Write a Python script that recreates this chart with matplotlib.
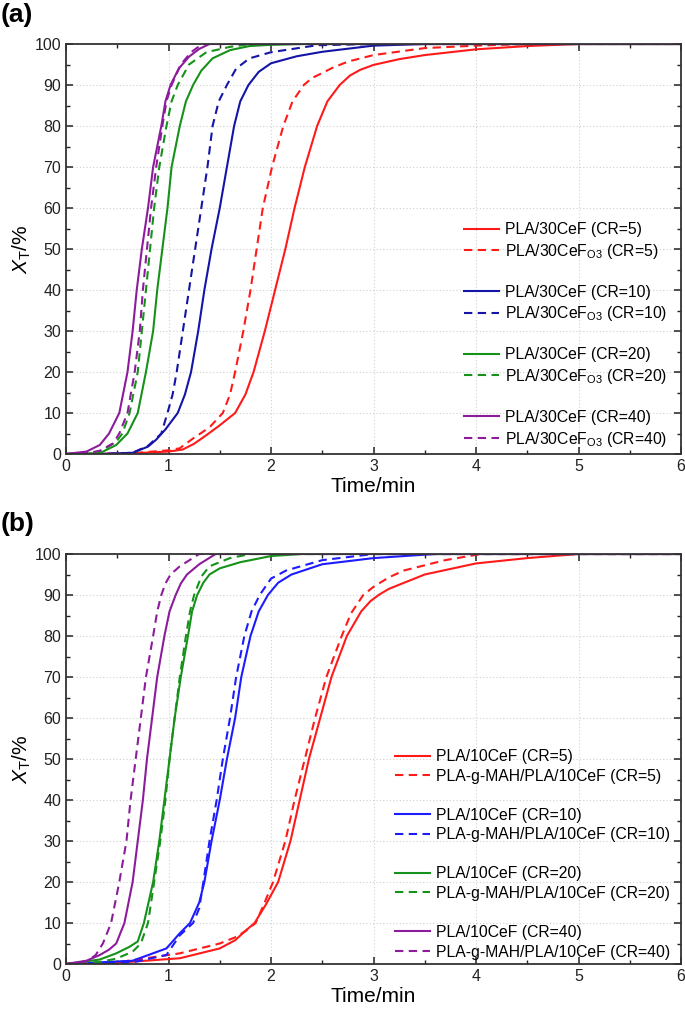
import matplotlib
matplotlib.use('Agg')
import matplotlib.pyplot as plt
from matplotlib.lines import Line2D
from matplotlib.ticker import MultipleLocator

plt.rcParams['font.family'] = ['Liberation Sans', 'DejaVu Sans']
plt.rcParams['mathtext.fontset'] = 'custom'
plt.rcParams['mathtext.rm'] = 'Liberation Sans'
plt.rcParams['mathtext.it'] = 'Liberation Sans:italic'

# ---- panel (a): PLA/30CeF vs PLA/30CeF_O3 ----
a5s_t = [0, 0.6, 1.0, 1.14, 1.25, 1.37, 1.50, 1.65, 1.75, 1.83, 1.94, 2.04, 2.14, 2.23, 2.33, 2.45, 2.55, 2.67, 2.77, 2.87, 3.0, 3.25, 3.5, 4.0, 4.5, 5.0, 6.0]
a5s_x = [0, 0.1, 0.6, 1.1, 2.5, 4.6, 7, 10, 14.5, 20, 30, 40, 50, 60, 70, 80, 86, 90, 92.3, 93.7, 94.9, 96.3, 97.3, 98.7, 99.5, 100, 100]
a5d_t = [0, 0.6, 1.0, 1.11, 1.24, 1.40, 1.53, 1.60, 1.65, 1.73, 1.80, 1.86, 1.92, 2.01, 2.12, 2.21, 2.32, 2.40, 2.49, 2.60, 2.75, 3.0, 3.5, 4.0, 4.5, 6.0]
a5d_x = [0, 0.1, 0.9, 1.4, 3.8, 6.5, 10, 14.5, 20, 30, 40, 50, 60, 70, 80, 86, 90, 91.7, 92.8, 94.2, 95.7, 97.3, 99.0, 99.6, 100, 100]

a10s_t = [0, 0.4, 0.65, 0.80, 0.88, 0.97, 1.09, 1.16, 1.22, 1.29, 1.35, 1.42, 1.50, 1.57, 1.64, 1.70, 1.78, 1.88, 2.0, 2.25, 2.5, 3.0, 3.5, 6.0]
a10s_x = [0, 0.05, 0.3, 1.8, 3.5, 6, 10, 14.5, 20, 30, 40, 50, 60, 70, 80, 86, 90, 93.2, 95.3, 97.0, 98.1, 99.6, 100, 100]
a10d_t = [0, 0.4, 0.65, 0.80, 0.88, 0.93, 0.99, 1.04, 1.08, 1.14, 1.20, 1.26, 1.32, 1.38, 1.43, 1.49, 1.57, 1.66, 1.79, 2.0, 2.45, 3.0, 6.0]
a10d_x = [0, 0.05, 0.3, 2.0, 3.8, 5, 10, 14.5, 20, 30, 40, 50, 60, 70, 80, 86, 90, 94.0, 96.5, 98.0, 99.7, 100, 100]

a20s_t = [0, 0.33, 0.49, 0.60, 0.70, 0.78, 0.85, 0.89, 0.94, 0.99, 1.03, 1.11, 1.17, 1.24, 1.32, 1.43, 1.6, 1.79, 2.0, 2.3, 6.0]
a20s_x = [0, 0.2, 2.2, 5, 10, 20, 30, 40, 50, 60, 70, 80, 86, 90, 93.5, 96.5, 98.5, 99.5, 99.8, 100, 100]
a20d_t = [0, 0.33, 0.49, 0.55, 0.62, 0.70, 0.74, 0.78, 0.82, 0.86, 0.91, 0.98, 1.03, 1.09, 1.2, 1.37, 1.6, 1.8, 6.0]
a20d_x = [0, 0.5, 3.0, 5, 10, 20, 30, 40, 50, 60, 70, 80, 86, 90, 95, 98, 99.3, 100, 100]

a40s_t = [0, 0.2, 0.33, 0.42, 0.52, 0.60, 0.65, 0.69, 0.74, 0.80, 0.85, 0.93, 0.97, 1.02, 1.1, 1.20, 1.30, 1.40, 6.0]
a40s_x = [0, 0.6, 2.2, 5, 10, 20, 30, 40, 50, 60, 70, 80, 86, 90, 94, 96.9, 98.8, 100, 100]
a40d_t = [0, 0.2, 0.33, 0.46, 0.52, 0.60, 0.67, 0.72, 0.75, 0.79, 0.83, 0.88, 0.94, 0.98, 1.03, 1.12, 1.22, 1.33, 6.0]
a40d_x = [0, 0.2, 0.8, 2.6, 5, 10, 20, 30, 40, 50, 60, 70, 80, 86, 90, 95, 98, 100, 100]

# ---- panel (b): PLA/10CeF vs PLA-g-MAH/PLA/10CeF ----
b5s_t = [0, 0.5, 1.11, 1.5, 1.65, 1.76, 1.84, 1.95, 2.07, 2.19, 2.28, 2.37, 2.48, 2.59, 2.74, 2.88, 2.97, 3.05, 3.15, 3.3, 3.5, 4.0, 4.5, 5.0, 6.0]
b5s_x = [0, 0.3, 1.4, 3.8, 5.8, 8.3, 10, 14.5, 20, 30, 40, 50, 60, 70, 80, 86, 88.5, 90, 91.5, 93, 95, 97.7, 99, 100, 100]
b5d_t = [0, 0.5, 1.11, 1.5, 1.65, 1.75, 1.85, 1.93, 2.02, 2.14, 2.23, 2.33, 2.43, 2.54, 2.69, 2.78, 2.90, 3.0, 3.15, 3.3, 3.7, 4.05, 6.0]
b5d_x = [0, 0.4, 2.6, 5.0, 6.5, 8.0, 10, 14.5, 20, 30, 40, 50, 60, 70, 80, 85.5, 90, 92, 94.3, 96, 98.5, 100, 100]

b10s_t = [0, 0.65, 0.98, 1.11, 1.21, 1.30, 1.35, 1.42, 1.50, 1.57, 1.65, 1.71, 1.80, 1.88, 1.97, 2.07, 2.2, 2.5, 3.0, 3.6, 6.0]
b10s_x = [0, 0.8, 3.8, 7.5, 10, 15, 20, 30, 40, 50, 60, 70, 80, 86, 90, 93, 95, 97.5, 99, 100, 100]
b10d_t = [0, 0.65, 0.98, 1.11, 1.24, 1.30, 1.34, 1.40, 1.47, 1.53, 1.60, 1.66, 1.74, 1.81, 1.89, 2.0, 2.15, 2.5, 3.0, 6.0]
b10d_x = [0, 0.4, 2.2, 7, 10, 13.6, 20, 30, 40, 50, 60, 70, 80, 86, 90, 94, 96, 98.5, 100, 100]

b20s_t = [0, 0.33, 0.49, 0.62, 0.70, 0.76, 0.85, 0.91, 0.96, 1.01, 1.06, 1.12, 1.19, 1.23, 1.28, 1.34, 1.40, 1.5, 1.7, 2.0, 2.3, 6.0]
b20s_x = [0, 1.1, 2.6, 4.2, 5.5, 10, 20, 30, 40, 50, 60, 70, 80, 86, 90, 93, 95, 96.5, 98, 99.5, 100, 100]
b20d_t = [0, 0.33, 0.49, 0.65, 0.73, 0.80, 0.86, 0.92, 0.97, 1.01, 1.06, 1.11, 1.17, 1.21, 1.25, 1.32, 1.40, 1.6, 1.8, 6.0]
b20d_x = [0, 0.5, 1.3, 3.0, 5, 10, 20, 30, 40, 50, 60, 70, 80, 86, 90, 94.5, 97, 99, 100, 100]

b40s_t = [0, 0.2, 0.33, 0.42, 0.49, 0.57, 0.65, 0.70, 0.75, 0.79, 0.84, 0.89, 0.96, 1.01, 1.07, 1.12, 1.18, 1.30, 1.46, 6.0]
b40s_x = [0, 0.8, 2.2, 3.5, 5, 10, 20, 30, 40, 50, 60, 70, 80, 86, 90, 92.8, 95, 97.5, 100, 100]
b40d_t = [0, 0.2, 0.29, 0.36, 0.44, 0.52, 0.59, 0.63, 0.68, 0.73, 0.78, 0.85, 0.89, 0.93, 0.97, 1.02, 1.11, 1.30, 6.0]
b40d_x = [0, 0.6, 2.2, 5, 10, 20, 30, 40, 50, 60, 70, 80, 86, 90, 92.8, 95, 97, 100, 100]

cr_values = [5, 10, 20, 40]
red, green, purple = '#ff1a1a', '#16921a', '#8c1c9c'
colors_a = [red, '#1414a6', green, purple]
colors_b = [red, '#1c1cff', green, purple]

series_a = [(a5s_t, a5s_x, a5d_t, a5d_x), (a10s_t, a10s_x, a10d_t, a10d_x),
            (a20s_t, a20s_x, a20d_t, a20d_x), (a40s_t, a40s_x, a40d_t, a40d_x)]
series_b = [(b5s_t, b5s_x, b5d_t, b5d_x), (b10s_t, b10s_x, b10d_t, b10d_x),
            (b20s_t, b20s_x, b20d_t, b20d_x), (b40s_t, b40s_x, b40d_t, b40d_x)]

solid_a = 'PLA/30CeF (CR={})'
dash_a = 'PLA/30CeF$_{{\\mathrm{{O3}}}}$ (CR={})'
solid_b = 'PLA/10CeF (CR={})'
dash_b = 'PLA-g-MAH/PLA/10CeF (CR={})'

fig = plt.figure(figsize=(6.85, 10.24), dpi=100)
ax_a = fig.add_axes([66/685, 1-454/1024, 615/685, 410/1024])
ax_b = fig.add_axes([66/685, 1-964/1024, 615/685, 410/1024])


def draw_panel(ax, series, colors, lab_s, lab_d, leg_x):
    handles = []
    for i, (ts, xs, td, xd) in enumerate(series):
        c = colors[i]
        hs, = ax.plot(ts, xs, color=c, lw=1.5, label=lab_s.format(cr_values[i]))
        hd, = ax.plot(td, xd, color=c, lw=1.5, ls=(0, (4, 2.6)), label=lab_d.format(cr_values[i]))
        if i > 0:
            handles.append(Line2D([], [], color='none', label=' '))
        handles += [hs, hd]
    ax.set_xlim(0, 6)
    ax.set_ylim(0, 100)
    ax.xaxis.set_major_locator(MultipleLocator(1))
    ax.xaxis.set_minor_locator(MultipleLocator(0.5))
    ax.yaxis.set_major_locator(MultipleLocator(10))
    ax.yaxis.set_minor_locator(MultipleLocator(5))
    ax.tick_params(which='both', direction='in', top=True, right=True, labelsize=11.5, colors='#222222')
    ax.tick_params(which='major', length=5, width=1.1)
    ax.tick_params(which='minor', length=3, width=1.0)
    for sp in ax.spines.values():
        sp.set_linewidth(1.3)
        sp.set_color('#333333')
    ax.grid(True, which='major', ls=(0, (1, 2)), color='#d0d0d0', lw=0.8)
    ax.set_axisbelow(True)
    ax.set_xlabel('Time/min', fontsize=15, labelpad=2)
    ax.set_ylabel('$X_\\mathrm{T}$/%', fontsize=15, labelpad=1)
    ax.legend(handles=handles, loc='upper left', bbox_to_anchor=leg_x, frameon=False,
              fontsize=11.3, handlelength=2.25, handletextpad=0.35, labelspacing=0.29,
              borderaxespad=0, borderpad=0)


draw_panel(ax_a, series_a, colors_a, solid_a, dash_a, ((464-66)/615, (454-222)/410))
draw_panel(ax_b, series_b, colors_b, solid_b, dash_b, ((395-66)/615, (964-749)/410))

fig.text(1/685, 1-3/1024, '(a)', fontsize=19, fontweight='bold', ha='left', va='top')
fig.text(1/685, 1-512/1024, '(b)', fontsize=19, fontweight='bold', ha='left', va='top')

fig.savefig('out.png', dpi=100)
